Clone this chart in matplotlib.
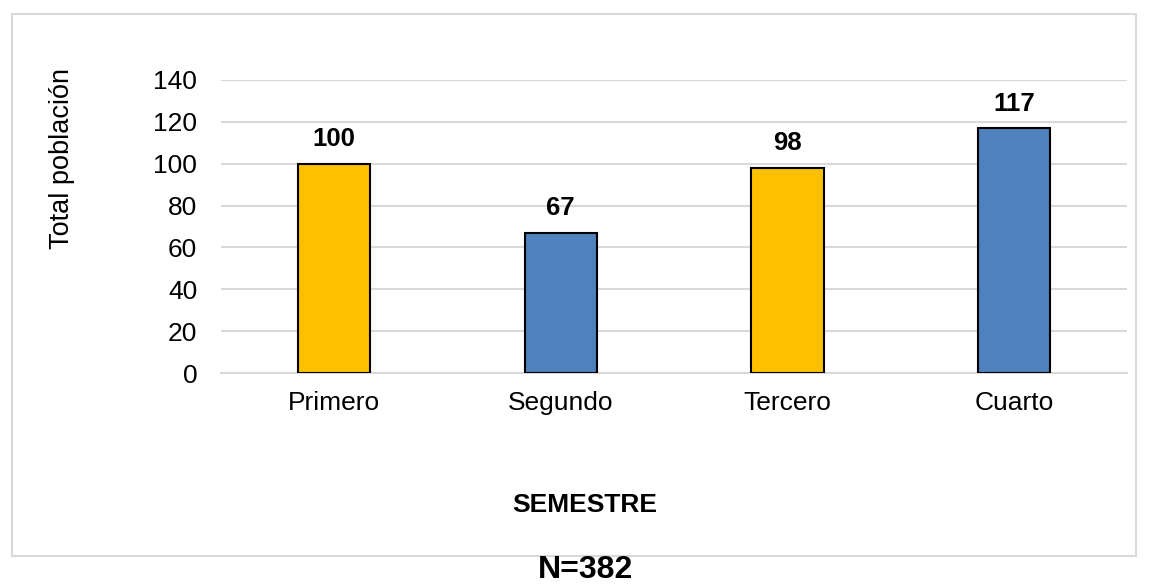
import matplotlib.pyplot as plt
import numpy as np
from matplotlib.patches import Rectangle

plt.rcParams['font.family'] = ['Liberation Sans', 'DejaVu Sans']

semestres = ['Primero', 'Segundo', 'Tercero', 'Cuarto']
total = [100, 67, 98, 117]
colores = ['#FFC000', '#4F81BD', '#FFC000', '#4F81BD']

fig = plt.figure(figsize=(11.49, 5.88), dpi=100)
ax = fig.add_axes([0.1923, 0.3656, 0.7887, 0.4984])

# marco gris alrededor del grafico
fig.patches.append(Rectangle((0.0104, 0.0544), 0.978, 0.922, transform=fig.transFigure,
                             fill=False, edgecolor='#D9D9D9', linewidth=1.5))

x = np.arange(len(semestres))
bars = ax.bar(x, total, width=0.32, color=colores, edgecolor='black', linewidth=1.5, zorder=3)

for b, v in zip(bars, total):
    ax.text(b.get_x() + b.get_width() / 2, v + 6, str(v), ha='center', va='bottom',
            fontsize=18.5, fontweight='bold')

ax.set_xlim(-0.5, 3.5)
ax.set_ylim(0, 140)
ax.set_yticks(range(0, 141, 20))
ax.set_xticks(x)
ax.set_xticklabels(semestres)
ax.tick_params(axis='both', length=0, labelsize=19)
ax.tick_params(axis='y', pad=17)
ax.tick_params(axis='x', pad=13)
ax.grid(axis='y', color='#D9D9D9', linewidth=1.5, zorder=0)
for s in ['top', 'right', 'left']:
    ax.spines[s].set_visible(False)
ax.spines['bottom'].set_color('#D9D9D9')
ax.spines['bottom'].set_linewidth(1.5)

fig.text(0.054, 0.73, 'Total población', rotation=90, ha='center', va='center', fontsize=19.5)
fig.text(0.509, 0.141, 'SEMESTRE', ha='center', va='center', fontsize=19, fontweight='bold')
fig.text(0.51, 0.031, 'N=382', ha='center', va='center', fontsize=23, fontweight='bold')

fig.savefig('out.png', dpi=100)
